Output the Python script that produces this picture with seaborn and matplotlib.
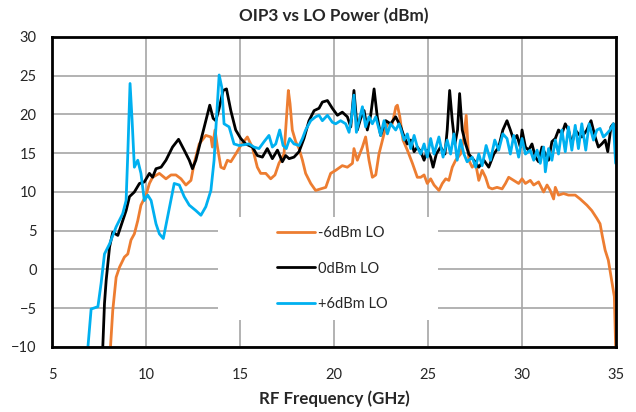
import matplotlib
matplotlib.use("Agg")
import pandas as pd
import seaborn as sns
import matplotlib.pyplot as plt
from matplotlib.patches import Rectangle

# -6dBm LO
freq_m6 = [8.11, 8.23, 8.41, 8.59, 8.85, 9.03, 9.20, 9.38, 9.56, 9.73, 10.0, 10.18, 10.35, 10.71,
           11.06, 11.33, 11.59, 11.86, 12.12, 12.39, 12.56, 12.83, 13.18, 13.45, 13.53, 13.67, 13.80,
           13.98, 14.15, 14.33, 14.51, 14.77, 15.04, 15.39, 15.65, 15.92, 16.10, 16.37, 16.63, 16.86,
           17.07, 17.34, 17.46, 17.57, 17.66, 17.78, 17.96, 18.14, 18.32, 18.49, 18.76, 19.02, 19.29,
           19.56, 19.82, 20.09, 20.44, 20.71, 20.98, 21.06, 21.24, 21.51, 21.68, 21.86, 22.04, 22.22,
           22.39, 22.66, 22.84, 23.10, 23.29, 23.37, 23.50, 23.67, 23.90, 24.17, 24.43, 24.61, 24.79,
           24.96, 25.14, 25.32, 25.58, 25.76, 25.94, 26.11, 26.29, 26.47, 26.73, 26.91, 27.03, 27.17,
           27.35, 27.53, 27.70, 27.88, 28.06, 28.23, 28.41, 28.67, 28.94, 29.12, 29.29, 29.56, 29.82,
           30.0, 30.18, 30.44, 30.62, 30.88, 31.15, 31.33, 31.50, 31.68, 31.77, 31.94, 32.21, 32.47,
           32.83, 33.09, 33.45, 33.71, 33.98, 34.15, 34.28, 34.42, 34.59, 34.77, 34.91, 34.98]
oip3_m6 = [-10, -5.3, -1.0, 0.3, 1.6, 2.0, 3.8, 4.6, 6.3, 8.3, 9.6, 11.1, 11.9, 12.4,
           11.7, 12.2, 12.2, 11.7, 10.9, 11.5, 13.7, 16.2, 17.3, 17.1, 15.8, 18.0, 15.8,
           13.2, 13.0, 14.1, 13.9, 14.9, 16.0, 17.1, 15.8, 13.2, 12.4, 12.4, 11.7, 12.2,
           13.7, 14.9, 19.2, 23.1, 21.4, 18.0, 16.5, 15.6, 14.1, 12.4, 11.1, 10.2, 10.4,
           10.6, 12.4, 12.8, 13.4, 13.2, 13.7, 15.6, 14.1, 15.8, 17.1, 14.1, 11.9, 12.2,
           14.9, 17.5, 18.8, 18.8, 21.0, 21.2, 19.7, 16.7, 15.4, 13.7, 11.9, 11.9, 12.2,
           11.1, 11.7, 10.9, 10.2, 11.1, 11.7, 11.5, 13.2, 14.1, 14.9, 17.1, 19.9, 14.1,
           13.2, 13.7, 11.5, 12.8, 11.9, 10.6, 10.4, 10.6, 10.4, 11.1, 11.9, 11.5, 11.1,
           11.7, 11.1, 11.5, 10.9, 11.3, 10.0, 10.9, 10.2, 9.1, 10.6, 9.6, 9.8, 9.6,
           9.6, 9.1, 8.3, 7.6, 6.6, 5.9, 4.2, 2.5, 1.2, -1.4, -3.5, -10]

# 0dBm LO
freq_0 = [7.70, 7.79, 7.88, 8.06, 8.23, 8.50, 8.76, 8.94, 9.12, 9.38, 9.65, 9.91, 10.18, 10.35,
          10.53, 10.80, 11.06, 11.41, 11.73, 12.03, 12.30, 12.47, 12.65, 12.92, 13.18, 13.39, 13.57,
          13.71, 13.89, 14.10, 14.28, 14.51, 14.77, 15.04, 15.30, 15.66, 15.92, 16.19, 16.45, 16.72,
          16.99, 17.25, 17.43, 17.61, 17.87, 18.14, 18.40, 18.67, 18.94, 19.20, 19.38, 19.65, 19.91,
          20.18, 20.44, 20.71, 20.89, 21.06, 21.24, 21.42, 21.60, 21.77, 21.95, 22.13, 22.30, 22.48,
          22.75, 23.01, 23.28, 23.55, 23.73, 23.90, 24.08, 24.26, 24.43, 24.61, 24.79, 24.96, 25.14,
          25.27, 25.44, 25.67, 25.90, 26.02, 26.15, 26.29, 26.43, 26.57, 26.68, 26.82, 27.00, 27.17,
          27.44, 27.70, 27.97, 28.23, 28.50, 28.76, 28.98, 29.20, 29.38, 29.56, 29.73, 29.91, 30.0,
          30.18, 30.35, 30.53, 30.71, 30.88, 31.06, 31.24, 31.41, 31.59, 31.77, 31.94, 32.12, 32.30,
          32.47, 32.65, 32.83, 33.00, 33.18, 33.45, 33.67, 33.89, 34.06, 34.24, 34.42, 34.56, 34.73,
          34.86, 34.98]
oip3_0 = [-10, -4.4, -1.4, 2.9, 4.8, 4.4, 6.3, 7.6, 9.4, 10.0, 11.1, 11.3, 12.4, 11.9,
          13.0, 13.2, 14.1, 15.8, 16.8, 15.4, 14.1, 13.0, 14.1, 16.7, 19.2, 21.2, 19.5,
          19.2, 20.8, 23.1, 23.3, 20.5, 18.0, 16.9, 16.2, 15.8, 14.7, 14.5, 15.6, 14.3,
          15.4, 13.9, 14.7, 14.3, 14.5, 15.2, 16.9, 19.2, 20.5, 20.8, 21.6, 21.8, 20.8,
          19.9, 20.3, 19.7, 18.4, 23.1, 18.0, 19.5, 20.5, 18.0, 19.9, 23.3, 19.7, 17.3,
          19.2, 18.8, 19.7, 18.4, 17.1, 16.2, 16.7, 15.2, 15.8, 15.2, 14.1, 15.4, 14.5,
          13.2, 14.9, 15.8, 14.9, 18.0, 23.1, 19.2, 16.2, 18.0, 22.7, 18.0, 16.2, 14.9,
          14.1, 13.2, 14.1, 13.2, 14.9, 15.8, 18.0, 19.2, 18.0, 16.7, 17.3, 15.8, 18.0,
          15.8, 15.4, 16.2, 14.5, 13.9, 15.8, 14.9, 14.1, 16.5, 16.9, 18.0, 17.5, 18.8,
          18.0, 16.2, 18.0, 17.5, 17.1, 18.0, 19.2, 17.1, 15.8, 16.2, 16.7, 15.2, 18.4,
          18.8, 16.2]

# +6dBm LO
freq_p6 = [6.91, 7.08, 7.44, 7.61, 7.79, 8.06, 8.41, 8.76, 8.94, 9.03, 9.15, 9.26, 9.38, 9.56,
           9.73, 9.91, 10.09, 10.27, 10.53, 10.71, 10.92, 11.15, 11.50, 11.77, 12.03, 12.30, 12.65,
           12.92, 13.18, 13.45, 13.62, 13.71, 13.89, 14.03, 14.15, 14.42, 14.68, 14.95, 15.48, 15.74,
           16.01, 16.28, 16.54, 16.72, 16.90, 17.11, 17.29, 17.46, 17.64, 17.87, 18.14, 18.32, 18.49,
           18.76, 19.02, 19.20, 19.38, 19.65, 19.91, 20.09, 20.35, 20.62, 20.80, 20.94, 21.06, 21.19,
           21.33, 21.51, 21.68, 21.86, 22.04, 22.22, 22.48, 22.66, 22.84, 23.01, 23.28, 23.46, 23.73,
           23.90, 24.08, 24.26, 24.43, 24.61, 24.79, 24.96, 25.14, 25.32, 25.58, 25.80, 26.02, 26.20,
           26.38, 26.55, 26.73, 26.91, 27.08, 27.35, 27.53, 27.70, 27.88, 28.09, 28.32, 28.55, 28.76,
           28.98, 29.20, 29.38, 29.56, 29.82, 30.0, 30.18, 30.44, 30.62, 30.80, 30.97, 31.15, 31.24,
           31.41, 31.59, 31.77, 31.94, 32.12, 32.30, 32.47, 32.65, 32.83, 33.00, 33.18, 33.39, 33.57,
           33.80, 33.98, 34.15, 34.33, 34.50, 34.68, 34.86, 34.98]
oip3_p6 = [-10, -5.1, -4.8, -1.8, 2.0, 3.3, 5.5, 7.2, 8.9, 14.9, 24.0, 19.2, 13.2, 14.1,
           12.4, 8.9, 9.6, 8.9, 5.9, 4.6, 4.0, 6.8, 11.1, 10.9, 9.4, 8.3, 7.6,
           7.0, 8.1, 10.2, 14.1, 18.0, 25.1, 23.5, 18.8, 18.4, 16.2, 16.0, 16.2, 15.8,
           15.6, 16.5, 17.3, 15.8, 16.2, 18.0, 16.0, 15.6, 16.9, 16.2, 16.0, 16.9, 18.0,
           19.2, 19.7, 19.9, 19.2, 19.9, 19.0, 18.8, 19.2, 18.8, 17.7, 19.7, 22.5, 17.7,
           19.2, 21.0, 18.4, 19.7, 18.8, 19.7, 17.3, 19.2, 17.5, 18.8, 18.0, 18.8, 16.7,
           17.5, 15.6, 17.3, 15.8, 14.9, 16.2, 14.5, 16.9, 14.9, 17.1, 14.5, 16.7, 14.9,
           17.5, 14.1, 16.7, 14.9, 13.9, 14.5, 13.2, 14.9, 13.4, 16.0, 14.1, 16.7, 15.4,
           17.5, 16.9, 14.9, 17.3, 14.5, 16.9, 14.9, 15.4, 14.1, 15.4, 13.7, 15.8, 12.6,
           15.6, 14.1, 16.7, 14.9, 18.0, 15.2, 18.4, 15.4, 18.6, 15.6, 18.8, 15.4, 18.8,
           16.7, 18.0, 18.2, 17.1, 17.5, 18.0, 18.8, 13.7]

series_labels = ["-6dBm LO", "0dBm LO", "+6dBm LO"]
series_colors = ["#ED7D31", "#000000", "#00B0F0"]

sns.set_style("white")
plt.rcParams['font.family'] = ['Lato', 'DejaVu Sans']

fig = plt.figure(figsize=(6.36, 4.12), dpi=100)
ax = fig.add_axes([0.0818, 0.1578, 0.8868, 0.7524])

for fx, fy, lab, col in zip([freq_m6, freq_0, freq_p6], [oip3_m6, oip3_0, oip3_p6],
                            series_labels, series_colors):
    df = pd.DataFrame({"freq": fx, "oip3": fy})
    sns.lineplot(data=df, x="freq", y="oip3", ax=ax, color=col, label=lab,
                 linewidth=2.0, sort=False, estimator=None, zorder=3)

ax.set_xlim(5, 35)
ax.set_ylim(-10, 30)
ax.set_xticks(range(5, 36, 5))
ax.set_yticks(range(-10, 31, 5))
ax.grid(True, color="#a6a6a6", linewidth=1.2)
ax.set_axisbelow(True)
for sp in ax.spines.values():
    sp.set_color("black")
    sp.set_linewidth(2.0)
    sp.set_zorder(4)
ax.tick_params(axis="both", length=0, labelsize=10.5)
ax.tick_params(axis="x", pad=15)
ax.tick_params(axis="y", pad=11)

ax.set_title("OIP3 vs LO Power (dBm)", fontsize=12.3, fontweight="bold", pad=11)
ax.set_xlabel("RF Frequency (GHz)", fontsize=12.2, fontweight="bold", labelpad=6)
ax.set_ylabel("")

# white legend background that hides the gridlines
ax.add_patch(Rectangle((0.294, 0.087), 0.390, 0.332, transform=ax.transAxes,
                       facecolor="white", edgecolor="none", zorder=2))

leg = ax.legend(loc="center left", bbox_to_anchor=(0.386, 0.253), frameon=False, fontsize=10.5,
                handlelength=2.6, labelspacing=1.45, borderpad=0, handletextpad=0.2)

fig.savefig("out.png", dpi=100)
plt.close()
